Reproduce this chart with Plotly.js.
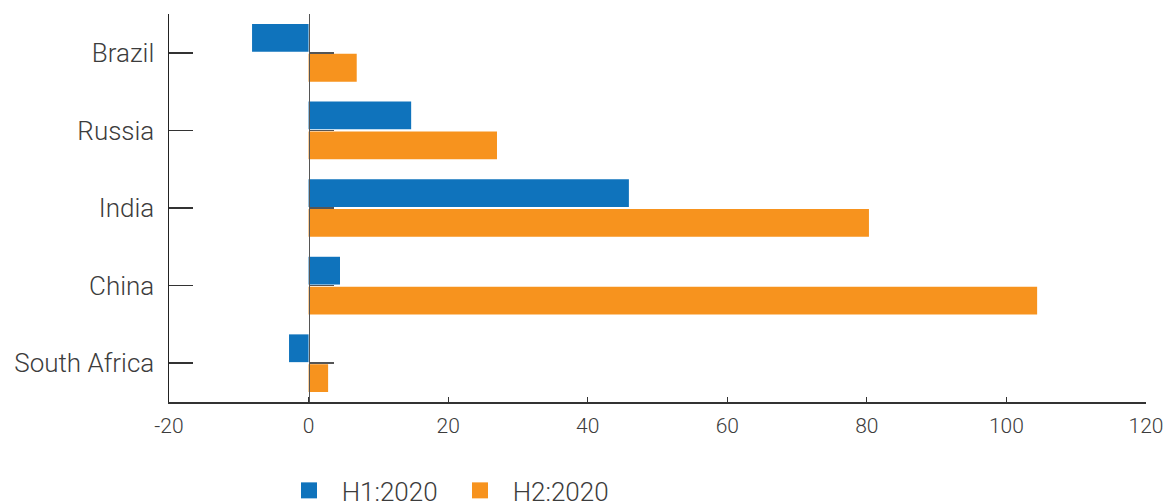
<!DOCTYPE html>
<html>
<head>
<meta charset="utf-8">
<script src="https://cdn.plot.ly/plotly-3.0.1.min.js"></script>
<style>html,body{margin:0;padding:0;background:#fff;}#chart{width:1164px;height:504px;}</style>
</head>
<body>
<div id="chart"></div>
<script>
const categories = ["Brazil", "Russia", "India", "China", "South Africa"];
const h1Values = [-8.1, 14.7, 45.9, 4.5, -2.8];
const h2Values = [6.9, 27.0, 80.3, 104.4, 2.8];
const seriesNames = ["H1:2020", "H2:2020"];
const xTicks = [-20, 0, 20, 40, 60, 80, 100, 120];

const blue = "#0F73BC", orange = "#F7931E";
const textColor = "#3c3c3c";
const fam = "Roboto, sans-serif";

const data = [
  {type: "bar", orientation: "h", x: h1Values, y: categories, name: seriesNames[0],
   marker: {color: blue}, showlegend: false, hoverinfo: "x+y"},
  {type: "bar", orientation: "h", x: h2Values, y: categories, name: seriesNames[1],
   marker: {color: orange}, showlegend: false, hoverinfo: "x+y"},
  {type: "scatter", mode: "markers", x: [null], y: [null], name: "  " + seriesNames[0],
   marker: {symbol: "square", size: 18, color: blue}},
  {type: "scatter", mode: "markers", x: [null], y: [null], name: "  " + seriesNames[1],
   marker: {symbol: "square", size: 18, color: orange}},
  {type: "scatter", mode: "markers", x: [null], y: categories, yaxis: "y2",
   showlegend: false, hoverinfo: "skip", marker: {opacity: 0}}
];

const layout = {
  width: 1164, height: 504,
  margin: {l: 169, r: 18, t: 14, b: 102, autoexpand: false},
  paper_bgcolor: "#ffffff", plot_bgcolor: "#ffffff",
  font: {family: fam, color: textColor, weight: 300},
  barmode: "group", bargap: 0.23, bargroupgap: 0.07,
  xaxis: {
    range: [-20, 120], tickvals: xTicks, ticktext: xTicks.map(String),
    showgrid: false, zeroline: false,
    showline: true, linecolor: "#333333", linewidth: 1.5,
    ticks: "inside", ticklen: 5, tickcolor: "#333333", tickwidth: 1,
    ticklabelstandoff: 4,
    tickfont: {family: fam, size: 21, color: textColor, weight: 300},
    fixedrange: true
  },
  yaxis: {
    type: "category", categoryorder: "array", categoryarray: categories,
    range: [4.5, -0.5],
    showgrid: false, zeroline: false,
    showline: true, linecolor: "#222222", linewidth: 1.5,
    ticks: "inside", ticklen: 24, tickcolor: "#333333", tickwidth: 1.5,
    ticklabelstandoff: 8,
    tickfont: {family: fam, size: 26, color: textColor, weight: 300},
    fixedrange: true
  },
  yaxis2: {
    type: "category", categoryorder: "array", categoryarray: categories,
    range: [4.5, -0.5], overlaying: "y", anchor: "free", side: "left",
    position: 20 / 140,
    showgrid: false, zeroline: false, showticklabels: false,
    showline: true, linecolor: "#555555", linewidth: 1.5,
    ticks: "inside", ticklen: 24, tickcolor: "#555555", tickwidth: 1.5,
    fixedrange: true
  },
  legend: {
    orientation: "h", x: 0.1228, xanchor: "left", y: -0.228, yanchor: "middle",
    font: {family: fam, size: 26, color: textColor, weight: 300},
    itemwidth: 30, entrywidth: 126, entrywidthmode: "pixels", traceorder: "normal"
  },
  showlegend: true
};

Plotly.newPlot("chart", data, layout, {displayModeBar: false, staticPlot: true});
</script>
</body>
</html>
